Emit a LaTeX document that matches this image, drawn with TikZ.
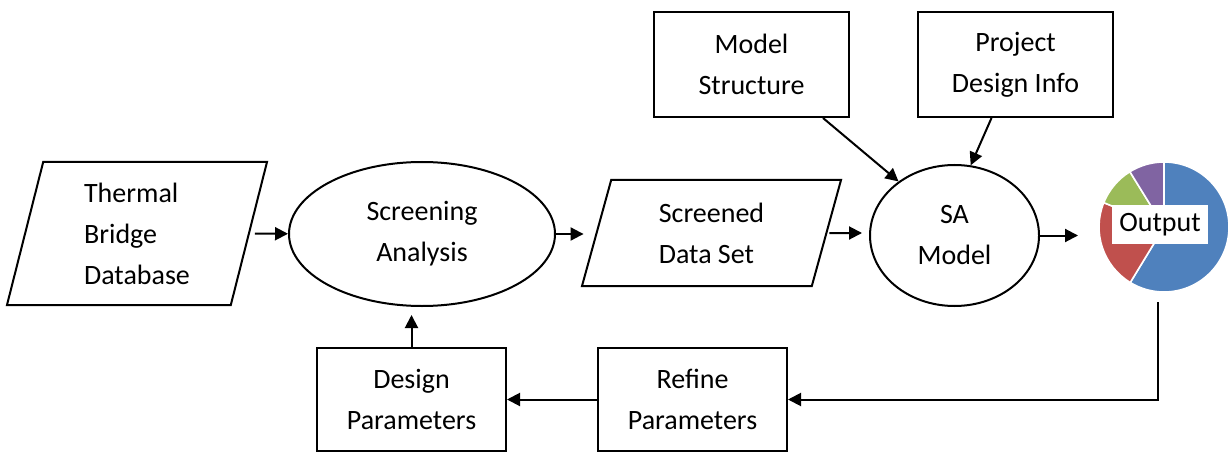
\documentclass[tikz,border=0pt]{standalone}
\usepackage{fontspec}
\setmainfont{Carlito}
\usetikzlibrary{arrows.meta,shapes.geometric}

\definecolor{pieblue}{HTML}{4F81BD}
\definecolor{piered}{HTML}{C0504D}
\definecolor{piegreen}{HTML}{9BBB59}
\definecolor{piepurple}{HTML}{8064A2}

\begin{document}
\begin{tikzpicture}[x=0.5pt,y=-0.5pt,
    every node/.style={font=\fontsize{14pt}{20.5pt}\selectfont, line width=1pt, inner sep=0pt},
    box/.style={draw, rectangle, align=center},
    oval/.style={draw, ellipse, align=center},
    datain/.style={draw, trapezium, trapezium stretches body, align=left},
    arr/.style={-{Triangle[length=6.5pt,width=6.5pt]}, line width=1pt}]

    \useasboundingbox (0,0) rectangle (1229,454);

    % Inputs and screening
    \node[datain, trapezium left angle=70.4, trapezium right angle=109.6,
          minimum width=130pt, minimum height=71.5pt] (tbd) at (137,233.5) {Thermal\\Bridge\\Database};
    \node[oval, minimum width=133pt, minimum height=72pt] (screen) at (422,234) {Screening\\Analysis};
    \node[datain, trapezium left angle=64.3, trapezium right angle=115.7,
          minimum width=129.5pt, minimum height=53pt] (sds) at (711.5,233) {Screened\\Data Set};
    \node[oval, minimum width=84.5pt, minimum height=70.5pt] (sa) at (954.5,235.5) {SA\\Model};

    \node[box, minimum width=97.5pt, minimum height=52.5pt] (ms) at (751.5,64.5) {Model\\Structure};
    \node[box, minimum width=97.5pt, minimum height=52.5pt] (pdi) at (1015.5,64.5) {Project\\Design Info};

    % Feedback loop
    \node[box, minimum width=94.5pt, minimum height=51.5pt] (dp) at (411.5,399.5) {Design\\Parameters};
    \node[box, minimum width=94.5pt, minimum height=51.5pt] (rp) at (692.5,399.5) {Refine\\Parameters};

    % Output pie
    \node[circle, minimum size=65pt] (out) at (1164,227) {};
    \fill[pieblue, draw=white, line width=0.8pt] (out.center) -- ++(90:32.5pt) arc[start angle=90, end angle=-121.3, radius=32.5pt] -- cycle;
    \fill[piered, draw=white, line width=0.8pt] (out.center) -- ++(238.7:32.5pt) arc[start angle=238.7, end angle=158, radius=32.5pt] -- cycle;
    \fill[piegreen, draw=white, line width=0.8pt] (out.center) -- ++(158:32.5pt) arc[start angle=158, end angle=121.7, radius=32.5pt] -- cycle;
    \fill[piepurple, draw=white, line width=0.8pt] (out.center) -- ++(121.7:32.5pt) arc[start angle=121.7, end angle=90, radius=32.5pt] -- cycle;
    \node[fill=white, minimum width=48pt, minimum height=19.5pt] (outlbl) at (1160,224.5) {Output};

    % Arrows
    \draw[arr, shorten <=2.5pt] (tbd) -- (screen);
    \draw[arr, shorten >=6pt] (screen) -- (screen -| sds.west);
    \draw[arr, shorten <=1pt, shorten >=3.5pt] (sds) -- (sds -| sa.west);
    \draw[arr, shorten >=10pt] (sa) -- (sa -| out.west);
    \draw[arr] ([xshift=-13.5pt]ms.south east) -- (sa.136);
    \draw[arr] ([xshift=-12pt]pdi.south) -- (sa.77);
    \draw[arr] ([xshift=-3pt,yshift=-4.5pt]out.south) |- (rp);
    \draw[arr] (rp) -- (dp);
    \draw[arr, shorten >=4pt] (dp) -- (dp |- screen.south);

\end{tikzpicture}
\end{document}
